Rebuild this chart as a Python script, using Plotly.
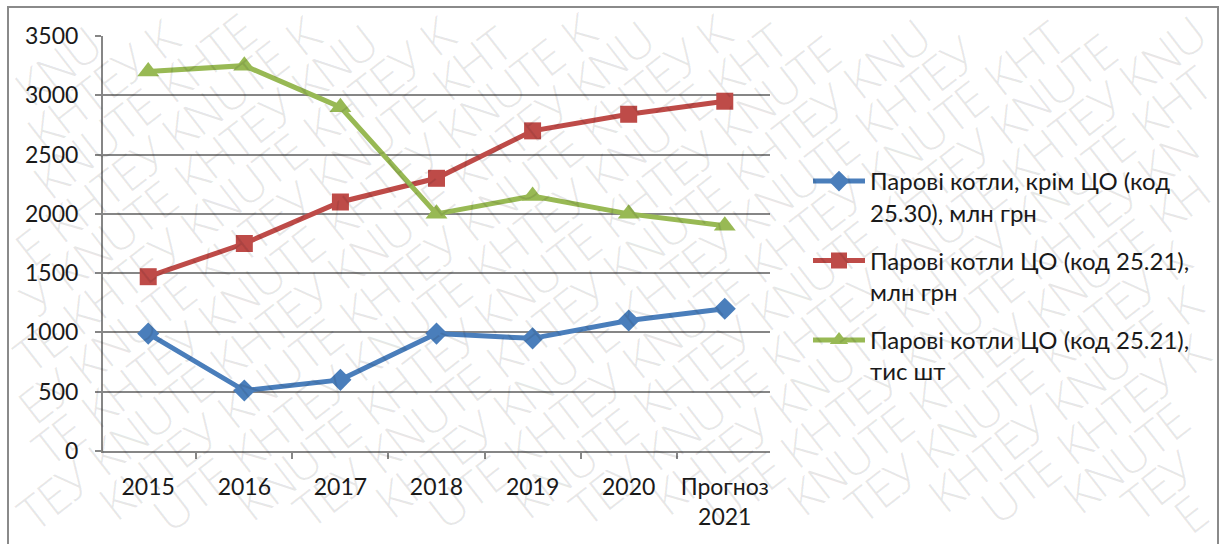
import math
import plotly.graph_objects as go

# Categories and series
years = ["2015", "2016", "2017", "2018", "2019", "2020", "Прогноз<br>2021"]
boilers_excl_co = [990, 510, 600, 990, 950, 1100, 1200]        # млн грн
boilers_co_uah = [1470, 1750, 2100, 2300, 2700, 2840, 2950]     # млн грн
boilers_co_units = [3200, 3250, 2900, 2000, 2150, 2000, 1900]   # тис шт

names = [
    "Парові котли, крім ЦО (код<br>25.30), млн грн",
    "Парові котли ЦО (код 25.21),<br>млн грн",
    "Парові котли ЦО (код 25.21),<br>тис шт",
]
colors = ["#4A7EBB", "#BE4B48", "#98B954"]
symbols = ["diamond", "square", "triangle-up"]
sizes = [17, 17, 19]
series = [boilers_excl_co, boilers_co_uah, boilers_co_units]

FONT = "Lato, 'Open Sans', sans-serif"
W, H = 1225, 544
L, R, T, B = 103, 455, 36, 93
PW, PH = W - L - R, H - T - B


def px_to_paper(px, py):
    return (px - L) / PW, (H - B - py) / PH


fig = go.Figure()
for i, (vals, nm) in enumerate(zip(series, names)):
    fig.add_trace(go.Scatter(
        x=years, y=vals, name=nm, mode="lines+markers",
        legendgroup=f"g{i}",
        line=dict(color=colors[i], width=5),
        marker=dict(symbol=symbols[i], size=sizes[i], color=colors[i]),
    ))

# Diagonal watermark, laid out glyph by glyph so nothing spills off the page
WM_FONT = 48
WM_ANGLE = 38.0
WM_ROW_GAP = 42
wm_widths = {"K": 0.56, "H": 0.68, "T": 0.52, "E": 0.52, "У": 0.56,
             "N": 0.70, "U": 0.68, " ": 0.26}
phrase = "KHTEУ KNUTE "
period = sum(wm_widths[c] for c in phrase) * WM_FONT
a = math.radians(WM_ANGLE)
ux, uy = math.cos(a), -math.sin(a)
vx, vy = math.sin(a), math.cos(a)
cx, cy = W / 2, H / 2
annotations = []
for k in range(-16, 17):
    ox = cx + k * WM_ROW_GAP * vx
    oy = cy + k * WM_ROW_GAP * vy
    s = -3.5 * period + (k * 0.43 % 1.0) * period
    text = phrase * 8
    for ch in text:
        w = wm_widths[ch] * WM_FONT
        if ch != " ":
            px = ox + (s + w / 2) * ux
            py = oy + (s + w / 2) * uy
            h = 1.2 * WM_FONT
            hw = (w * math.cos(a) + h * math.sin(a)) / 2
            hh = (w * math.sin(a) + h * math.cos(a)) / 2
            if hw <= px <= W - hw and hh <= py <= H - hh:
                xp, yp = px_to_paper(px, py)
                annotations.append(dict(
                    x=xp, y=yp, xref="paper", yref="paper", showarrow=False,
                    text=ch, textangle=-WM_ANGLE, xanchor="center",
                    yanchor="middle", borderpad=0,
                    font=dict(family="'Open Sans', sans-serif", size=WM_FONT,
                              weight=300, color="rgba(0,0,0,0.09)"),
                ))
        s += w

# Outer chart frame
x0, y0 = px_to_paper(8, 7)
x1, y1 = px_to_paper(1218, 560)
shapes = [dict(type="rect", xref="paper", yref="paper", x0=x0, y0=y1, x1=x1, y1=y0,
               line=dict(color="#8a8a8a", width=2), layer="below")]

lx, ly = px_to_paper(808, 159)

fig.update_layout(
    width=W, height=H,
    margin=dict(l=L, r=R, t=T, b=B),
    paper_bgcolor="white", plot_bgcolor="white",
    font=dict(family=FONT, size=23, color="#1a1a1a"),
    showlegend=True,
    legend=dict(
        x=lx, y=ly, xanchor="left", yanchor="top",
        font=dict(family=FONT, size=24, color="#1a1a1a"),
        tracegroupgap=14, bgcolor="rgba(0,0,0,0)",
        itemwidth=52, valign="top",
    ),
    xaxis=dict(
        type="category", showgrid=False, showline=True,
        linecolor="#868686", linewidth=2, ticks="outside",
        tickson="boundaries", ticklen=6, tickcolor="#868686", tickwidth=2,
        ticklabelstandoff=14,
        tickfont=dict(family=FONT, size=23, color="#1a1a1a"),
    ),
    yaxis=dict(
        range=[0, 3500], dtick=500, showgrid=True, gridcolor="#868686",
        gridwidth=2, showline=True, linecolor="#868686", linewidth=2,
        ticks="outside", ticklen=6, tickcolor="#868686", tickwidth=2,
        ticklabelstandoff=12, zeroline=False,
        tickfont=dict(family=FONT, size=23, color="#1a1a1a"),
    ),
    annotations=annotations,
    shapes=shapes,
)

fig.write_html("out.html")
